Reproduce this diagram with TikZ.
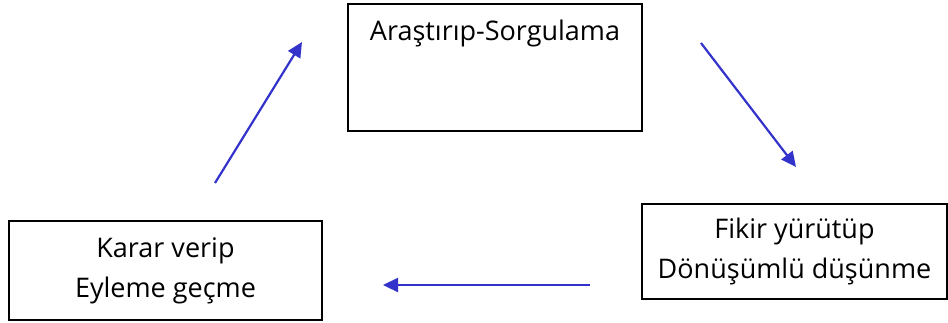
\documentclass[tikz,border=0pt]{standalone}
\usepackage{fontspec}
\setmainfont{Open Sans}
\usetikzlibrary{arrows.meta}

\definecolor{okmavi}{HTML}{3333CC}

\begin{document}
\begin{tikzpicture}[
      x=1pt, y=-1pt,
      every node/.style = {draw=black, line width=1.6pt, align=center, font=\fontsize{27}{40}\selectfont, inner sep=0pt},
      ok/.style         = {draw=okmavi, line width=2.2pt, -{Triangle[length=15pt, width=14pt]}}
    ]
    \useasboundingbox (0,0) rectangle (948,322);

    \node (arastirma) at (495,67.5) [minimum width=294pt, text height=36pt, text depth=91pt] {Araştırıp-Sorgulama};
    \node (fikir)     at (794.5,251.5) [minimum width=305pt, minimum height=95pt] {Fikir yürütüp\\Dönüşümlü düşünme};
    \node (karar)     at (165.5,270.5) [minimum width=313pt, minimum height=99pt] {Karar verip\\Eyleme geçme};

    % ok uclari
    \coordinate (a1) at (701,43);
    \coordinate (a2) at (796,167);
    \coordinate (b1) at (590,285);
    \coordinate (b2) at (383,285);
    \coordinate (c1) at (215,183);
    \coordinate (c2) at (302,42);

    \draw[ok] (a1) to (a2);
    \draw[ok] (b1) to (b2);
    \draw[ok] (c1) to (c2);

  \end{tikzpicture}
\end{document}
